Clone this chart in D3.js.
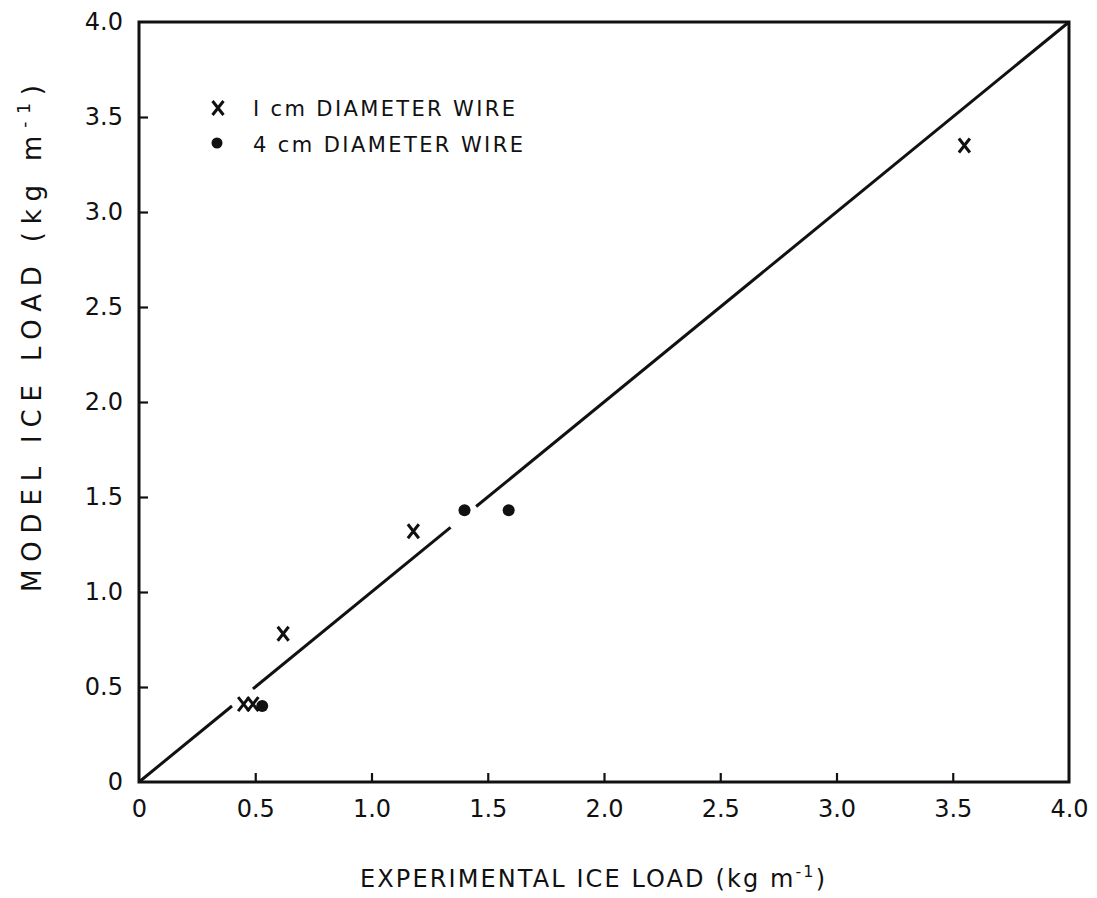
<!DOCTYPE html>
<html>
<head>
<meta charset="utf-8">
<script src="https://cdn.jsdelivr.net/npm/d3@7"></script>
<style>
  html, body { margin: 0; padding: 0; background: #fff; }
  svg text { font-family: "DejaVu Sans", "Liberation Sans", Arial, sans-serif; fill: #111; }
</style>
</head>
<body>
<svg id="chart" width="1097" height="898"></svg>
<script>
// Ice load: model vs experiment
const xTicks = [0, 0.5, 1.0, 1.5, 2.0, 2.5, 3.0, 3.5, 4.0];
const yTicks = [0, 0.5, 1.0, 1.5, 2.0, 2.5, 3.0, 3.5, 4.0];
const tickLabels = ["0", "0.5", "1.0", "1.5", "2.0", "2.5", "3.0", "3.5", "4.0"];

// 1 cm diameter wire (crosses)
const wire1cmX = [0.45, 0.49, 0.62, 1.18, 3.55];
const wire1cmY = [0.41, 0.41, 0.78, 1.32, 3.35];

// 4 cm diameter wire (dots)
const wire4cmX = [0.53, 1.40, 1.59];
const wire4cmY = [0.40, 1.43, 1.43];

// 1:1 line, drawn in pieces that stop short of nearby markers
const oneToOneSegments = [[0, 0.40], [0.49, 1.34], [1.45, 4.0]];

const legendLabels = ["I cm DIAMETER WIRE", "4 cm DIAMETER WIRE"];

const svg = d3.select("#chart");
const plotLeft = 139, plotRight = 1069, plotTop = 22, plotBottom = 782;

const x = d3.scaleLinear().domain([0, 4]).range([plotLeft, plotRight]);
const y = d3.scaleLinear().domain([0, 4]).range([plotBottom, plotTop]);

const ink = "#111";

// frame
svg.append("rect")
  .attr("x", plotLeft).attr("y", plotTop)
  .attr("width", plotRight - plotLeft).attr("height", plotBottom - plotTop)
  .attr("fill", "none").attr("stroke", ink).attr("stroke-width", 3);

// bottom axis: inward ticks, labels below
const xAxis = d3.axisBottom(x).tickValues(xTicks)
  .tickSizeInner(-9).tickSizeOuter(0).tickPadding(18)
  .tickFormat((d, i) => tickLabels[i]);
const gx = svg.append("g").attr("transform", `translate(0,${plotBottom})`).call(xAxis);
gx.select(".domain").remove();
gx.selectAll(".tick line").attr("stroke", ink).attr("stroke-width", 2.2);
gx.selectAll(".tick text").attr("font-size", 24).attr("fill", ink)
  .style("font-family", "DejaVu Sans");
gx.selectAll(".tick").filter(d => d === 0 || d === 4).select("line").remove();

// left axis
const yAxis = d3.axisLeft(y).tickValues(yTicks)
  .tickSizeInner(-9).tickSizeOuter(0).tickPadding(16)
  .tickFormat((d, i) => tickLabels[i]);
const gy = svg.append("g").attr("transform", `translate(${plotLeft},0)`).call(yAxis);
gy.select(".domain").remove();
gy.selectAll(".tick line").attr("stroke", ink).attr("stroke-width", 2.2);
gy.selectAll(".tick text").attr("font-size", 24).attr("fill", ink)
  .style("font-family", "DejaVu Sans");
gy.selectAll(".tick").filter(d => d === 0 || d === 4).select("line").remove();

// 1:1 line
svg.append("g").selectAll("line").data(oneToOneSegments).join("line")
  .attr("x1", d => x(d[0])).attr("y1", d => y(d[0]))
  .attr("x2", d => x(d[1])).attr("y2", d => y(d[1]))
  .attr("stroke", ink).attr("stroke-width", 3);

// crosses
const crossPath = (w, h) => `M${-w},${-h}L${w},${h}M${w},${-h}L${-w},${h}`;
const crosses = wire1cmX.map((v, i) => [v, wire1cmY[i]]);
svg.append("g").selectAll("path").data(crosses).join("path")
  .attr("transform", d => `translate(${x(d[0])},${y(d[1])})`)
  .attr("d", crossPath(5.5, 7))
  .attr("stroke", ink).attr("stroke-width", 3).attr("fill", "none");

// dots
const dots = wire4cmX.map((v, i) => [v, wire4cmY[i]]);
svg.append("g").selectAll("circle").data(dots).join("circle")
  .attr("cx", d => x(d[0])).attr("cy", d => y(d[1]))
  .attr("r", 6).attr("fill", ink);

// legend
const lg = svg.append("g");
lg.append("path").attr("transform", "translate(218,108)")
  .attr("d", crossPath(5.5, 7)).attr("stroke", ink).attr("stroke-width", 3).attr("fill", "none");
lg.append("circle").attr("cx", 217).attr("cy", 143).attr("r", 5.5).attr("fill", ink);
lg.selectAll("text").data(legendLabels).join("text")
  .attr("x", 253).attr("y", (d, i) => 116 + i * 36)
  .attr("font-size", 21)
  .attr("textLength", (d, i) => i === 0 ? 262 : 270)
  .attr("lengthAdjust", "spacing")
  .text(d => d);

// axis titles
const xt = svg.append("text")
  .attr("x", 360).attr("y", 887)
  .attr("font-size", 24)
  .attr("textLength", 465).attr("lengthAdjust", "spacing");
xt.append("tspan").text("EXPERIMENTAL  ICE LOAD (kg m");
xt.append("tspan").attr("dy", -10).attr("font-size", 16).text("-1");
xt.append("tspan").attr("dy", 10).text(")");

const yt = svg.append("text")
  .attr("transform", `translate(41,592) rotate(-90)`)
  .attr("font-size", 26)
  .attr("textLength", 507).attr("lengthAdjust", "spacing");
yt.append("tspan").text("MODEL  ICE  LOAD  (kg m");
yt.append("tspan").attr("dy", -11).attr("font-size", 17).text("-1");
yt.append("tspan").attr("dy", 11).text(")");
</script>
</body>
</html>
